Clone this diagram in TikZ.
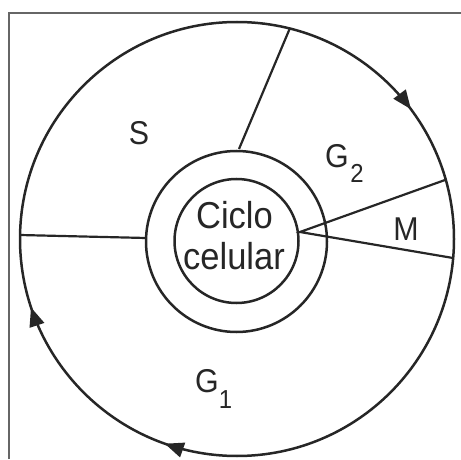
\documentclass[tikz,border=0pt]{standalone}
\usepackage{fontspec}
\newfontfamily\labfont[FakeStretch=0.92]{Liberation Sans}
\usetikzlibrary{arrows.meta,decorations.markings,calc}
\begin{document}
\begin{tikzpicture}[x=1pt,y=1pt,
  ring/.style={draw=black!85,line width=2.5pt},
  divider/.style={draw=black!85,line width=2.2pt},
  frameline/.style={draw=gray!80!black,line width=1.4pt},
  biglabel/.style={font=\labfont\fontsize{33}{33}\selectfont,inner sep=0pt,text=black!85},
  celltext/.style={font=\labfont\fontsize{37.5}{41}\selectfont,inner sep=0pt,text=black!85,anchor=base},
  cyc/.style={postaction={decorate},decoration={markings,
    mark=at position 0.304 with {\arrow{Triangle[length=19pt,width=15pt]}},
    mark=at position 0.449 with {\arrow{Triangle[length=19pt,width=15pt]}},
    mark=at position 0.898 with {\arrow{Triangle[length=19pt,width=15pt]}}}}
]
\useasboundingbox (0,0) rectangle (461,459);
% frame
\coordinate (fbl) at (9,0);
\coordinate (ftl) at (9,446);
\coordinate (ftr) at (461,446);
\draw[frameline] (fbl) -- (ftl) -- (ftr);
% circles
\coordinate (oc) at (237,220);
\draw[ring,cyc] ($(oc)+(217,0)$) arc[start angle=0,end angle=-360,radius=217];
\node[circle,ring,minimum size=181pt,inner sep=0pt] (mid) at (236.5,217.5) {};
\node[circle,ring,minimum size=124pt,inner sep=0pt] (inn) at (236.5,218) {};
% dividers
\coordinate (sL) at (20,224);
\coordinate (sR) at (146,221);
\coordinate (tO) at (290,431);
\coordinate (tI) at (239,310);
\coordinate (hub) at (300,227);
\coordinate (mA) at (445,279);
\coordinate (mB) at (453,201);
\draw[divider] (sL) -- (sR);
\draw[divider] (tO) -- (tI);
\draw[divider] (mA) -- (hub) -- (mB);
% labels
\node[celltext] (ciclo) at (234.5,231) {Ciclo};
\node[celltext] (celular) at (234,190) {celular};
\node[biglabel,anchor=base] (S) at (139,315) {S};
\node[biglabel,anchor=base] (M) at (406,219) {M};
\node[biglabel,anchor=base west] (G2) at (325,292) {G\kern1.5pt\raisebox{-15pt}{\fontsize{26}{26}\selectfont 2}};
\node[biglabel,anchor=base west] (G1) at (195,67) {G\kern0pt\raisebox{-16pt}{\fontsize{26}{26}\selectfont 1}};
\end{tikzpicture}
\end{document}
